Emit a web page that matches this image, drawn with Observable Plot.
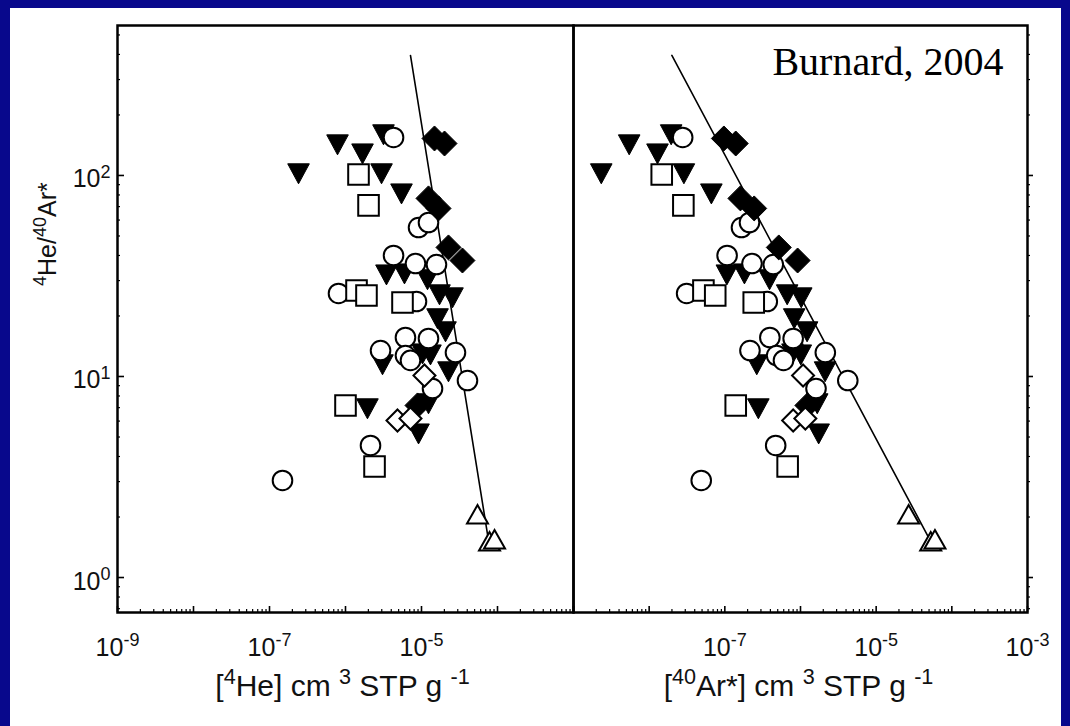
<!DOCTYPE html>
<html>
<head>
<meta charset="utf-8">
<script src="https://cdn.jsdelivr.net/npm/d3@7"></script>
<script src="https://cdn.jsdelivr.net/npm/@observablehq/plot@0.6"></script>
<style>
html, body { margin: 0; padding: 0; background: #08088c; width: 1070px; height: 726px; overflow: hidden; }
#card { position: absolute; left: 10px; top: 8px; width: 1051px; height: 718px; background: #ffffff; }
#left { position: absolute; left: 0; top: 0; }
#right { position: absolute; left: 561px; top: 0; }
svg { overflow: visible; }
</style>
</head>
<body>
<div id="card"><div id="left"></div><div id="right"></div></div>
<script>
// ---------- data (log10 values) ----------
// filled inverted triangles
const filledTriLogHe    = [-6.618,-6.105,-5.776,-5.500,-5.526,-5.263,-5.461,-5.224,-4.921,-4.763,-4.592,-4.789,-4.684,-4.987,-4.882,-5.513,-4.645,-4.908,-5.711,-5.039];
const filledTriLogRatio = [2.015,2.159,2.114,2.209,2.015,1.915,1.512,1.517,1.488,1.413,1.398,1.294,1.229,1.119,1.114,1.065,1.030,0.871,0.846,0.721];
const filledTriLogAr    = [-8.633,-8.264,-7.890,-7.709,-7.541,-7.178,-6.973,-6.741,-6.409,-6.176,-5.990,-6.083,-5.913,-6.106,-5.996,-6.578,-5.675,-5.779,-6.557,-5.760];
// filled diamonds
const filledDiaLogHe    = [-4.829,-4.697,-4.908,-4.776,-4.645,-4.461,-5.053];
const filledDiaLogRatio = [2.184,2.159,1.886,1.836,1.642,1.577,0.856];
const filledDiaLogAr    = [-7.013,-6.856,-6.794,-6.612,-6.287,-6.038,-5.909];
// open circles
const circleLogHe    = [-5.368,-5.039,-4.908,-5.368,-5.079,-4.803,-6.092,-5.066,-5.211,-4.908,-5.539,-5.211,-4.553,-4.395,-4.855,-5.671,-6.829,-5.145];
const circleLogRatio = [2.189,1.741,1.766,1.602,1.562,1.557,1.413,1.373,1.194,1.189,1.129,1.104,1.119,0.980,0.940,0.657,0.483,1.080];
const circleLogAr    = [-7.557,-6.780,-6.674,-6.970,-6.641,-6.360,-7.505,-6.439,-6.405,-6.097,-6.668,-6.315,-5.672,-5.375,-5.795,-6.328,-7.312,-6.225];
// open squares
const squareLogHe    = [-5.829,-5.697,-5.855,-5.724,-5.250,-6.000,-5.618];
const squareLogRatio = [2.005,1.851,1.428,1.403,1.368,0.856,0.552];
const squareLogAr    = [-7.834,-7.548,-7.283,-7.127,-6.618,-6.856,-6.170];
// open diamonds
const openDiaLogHe    = [-5.316,-4.961,-5.145];
const openDiaLogRatio = [0.781,1.005,0.791];
const openDiaLogAr    = [-6.097,-5.966,-5.936];
// open triangles
const openTriLogHe    = [-4.263,-4.105,-4.039];
const openTriLogRatio = [0.308,0.174,0.184];
const openTriLogAr    = [-4.571,-4.279,-4.223];
// trend lines (end points)
const heLineLogX = [-5.145, -4.118];
const heLineLogY = [2.597, 0.184];
const arLineLogX = [-7.700, -4.285];
const arLineLogY = [2.597, 0.184];
// axes
const xDomainExp = [-9, -3];
const yDomainExp = [-0.174, 2.746];
const xMajorExp = [-9, -8, -7, -6, -5, -4, -3];
const yMajorExp = [0, 1, 2];
const xTickLabelExpHe = [-9, -7, -5];
const xTickLabelExpAr = [-7, -5, -3];
const yTickLabelExp = [0, 1, 2];
const xTitleHe = "[{4}He] cm {3} STP g {-1}";
const xTitleAr = "[{40}Ar*] cm {3} STP g {-1}";
const yTitle = "{4}He/{40}Ar*";
const citation = "Burnard, 2004";

// ---------- helpers ----------
const pow = v => Math.pow(10, v);
const minorTicks = (lo, hi) => {
  const out = [];
  for (let e = Math.floor(lo); e < Math.ceil(hi); e++)
    for (let m = 2; m <= 9; m++) { const v = m * pow(e); if (v > pow(lo) && v < pow(hi)) out.push(v); }
  return out;
};
const xMinor = minorTicks(xDomainExp[0], xDomainExp[1]);
const yMinor = minorTicks(yDomainExp[0], yDomainExp[1]);

const invTriangle = { draw(ctx, size) { const h = Math.sqrt(size / Math.PI); ctx.moveTo(-h, -0.8 * h); ctx.lineTo(h, -0.8 * h); ctx.lineTo(0, 1.05 * h); ctx.closePath(); } };
const upTriangle  = { draw(ctx, size) { const h = Math.sqrt(size / Math.PI); ctx.moveTo(0, -1.0 * h); ctx.lineTo(h, 0.75 * h); ctx.lineTo(-h, 0.75 * h); ctx.closePath(); } };
const diamondSym  = { draw(ctx, size) { const h = Math.sqrt(size / Math.PI); ctx.moveTo(0, -h); ctx.lineTo(h, 0); ctx.lineTo(0, h); ctx.lineTo(-h, 0); ctx.closePath(); } };
const squareSym   = { draw(ctx, size) { const h = Math.sqrt(size / Math.PI); ctx.rect(-h, -h, 2 * h, 2 * h); } };

const pts = (lx, ly) => lx.map((v, i) => ({ x: pow(v), y: pow(ly[i]) }));

function dotMarks(key) {
  const X = key === "He"
    ? [filledTriLogHe, filledDiaLogHe, circleLogHe, squareLogHe, openDiaLogHe, openTriLogHe]
    : [filledTriLogAr, filledDiaLogAr, circleLogAr, squareLogAr, openDiaLogAr, openTriLogAr];
  return [
    Plot.dot(pts(X[0], filledTriLogRatio), { x: "x", y: "y", symbol: invTriangle, r: 10.8, fill: "black", stroke: "black", strokeWidth: 1 }),
    Plot.dot(pts(X[2], circleLogRatio), { x: "x", y: "y", symbol: "circle", r: 9.8, fill: "white", stroke: "black", strokeWidth: 2 }),
    Plot.dot(pts(X[3], squareLogRatio), { x: "x", y: "y", symbol: squareSym, r: 10.3, fill: "white", stroke: "black", strokeWidth: 2 }),
    Plot.dot(pts(X[1], filledDiaLogRatio), { x: "x", y: "y", symbol: diamondSym, r: 12.5, fill: "black", stroke: "black", strokeWidth: 1 }),
    Plot.dot(pts(X[4], openDiaLogRatio), { x: "x", y: "y", symbol: diamondSym, r: 11, fill: "white", stroke: "black", strokeWidth: 2 }),
    Plot.dot(pts(X[5], openTriLogRatio), { x: "x", y: "y", symbol: upTriangle, r: 10.5, fill: "white", stroke: "black", strokeWidth: 2 })
  ];
}

const H = 718, MT = 17, MB = 114;
const frameH = H - MT - MB;
const font = "'Liberation Sans', Arial, Helvetica, sans-serif";
const common = {
  height: H, marginTop: MT, marginBottom: MB,
  x: { type: "log", domain: [pow(xDomainExp[0]), pow(xDomainExp[1])], axis: null },
  y: { type: "log", domain: [pow(yDomainExp[0]), pow(yDomainExp[1])], axis: null },
  style: { background: "transparent", overflow: "visible", fontFamily: font, color: "#111" }
};

const bottomTicks = [
  Plot.ruleX(xMajorExp.map(pow), { x: d => d, insetTop: frameH - 6, stroke: "black", strokeWidth: 1.6 }),
  Plot.ruleX(xMinor, { x: d => d, insetTop: frameH - 3, stroke: "black", strokeWidth: 1.2 })
];

// left panel
const LW = 565, LML = 107, LMR = 2;
const LFW = LW - LML - LMR;
const left = Plot.plot({
  ...common, width: LW, marginLeft: LML, marginRight: LMR,
  marks: [
    ...bottomTicks,
    Plot.ruleY(yMajorExp.map(pow), { y: d => d, insetRight: LFW - 7, stroke: "black", strokeWidth: 1.6 }),
    Plot.ruleY(yMinor, { y: d => d, insetRight: LFW - 3, stroke: "black", strokeWidth: 1.2 }),
    Plot.line(pts(heLineLogX, heLineLogY), { x: "x", y: "y", stroke: "black", strokeWidth: 1.6 }),
    ...dotMarks("He"),
    Plot.frame({ stroke: "black", strokeWidth: 2.5 }),
    Plot.text(xTickLabelExpHe, { x: d => pow(d), text: d => `10{${d}}`, frameAnchor: "bottom", dy: 43, fontSize: 25 }),
    Plot.text(yTickLabelExp, { y: d => pow(d), text: d => `10{${d}}`, frameAnchor: "left", dx: -7, dy: 4, textAnchor: "end", fontSize: 25 }),
    Plot.text([xTitleHe], { text: d => d, frameAnchor: "bottom", dx: -3, dy: 83, fontSize: 30 }),
    Plot.text([yTitle], { text: d => d, frameAnchor: "left", rotate: -90, dx: -70, dy: -33, fontSize: 25 })
  ]
});

// right panel
const RW = 490, RML = 2, RMR = 34;
const RFW = RW - RML - RMR;
const right = Plot.plot({
  ...common, width: RW, marginLeft: RML, marginRight: RMR,
  marks: [
    ...bottomTicks,
    Plot.ruleY(yMajorExp.map(pow), { y: d => d, insetLeft: RFW, insetRight: -6, stroke: "black", strokeWidth: 1.6 }),
    Plot.ruleY(yMinor, { y: d => d, insetLeft: RFW, insetRight: -3, stroke: "black", strokeWidth: 1.2 }),
    Plot.line(pts(arLineLogX, arLineLogY), { x: "x", y: "y", stroke: "black", strokeWidth: 1.6 }),
    ...dotMarks("Ar"),
    Plot.frame({ stroke: "black", strokeWidth: 2.5 }),
    Plot.text(xTickLabelExpAr, { x: d => pow(d), text: d => `10{${d}}`, frameAnchor: "bottom", dy: 43, fontSize: 25 }),
    Plot.text([xTitleAr], { text: d => d, frameAnchor: "bottom", dx: -2, dy: 83, fontSize: 30 }),
    Plot.text([citation], { text: d => d, frameAnchor: "top-right", textAnchor: "end", lineAnchor: "top", dx: -24, dy: 21, fontSize: 40, fontFamily: "'Liberation Serif', 'Times New Roman', serif", fill: "black" })
  ]
});

document.getElementById("left").appendChild(left);
document.getElementById("right").appendChild(right);

// turn {..} segments into real superscripts
function supify(svg) {
  d3.select(svg).selectAll("text").each(function () {
    const s = this.textContent;
    if (!s.includes("{")) return;
    const fs = parseFloat(getComputedStyle(this).fontSize) || 24;
    const parts = s.split(/(\{[^}]*\})/).filter(p => p.length);
    this.textContent = "";
    let raised = false;
    for (const p of parts) {
      const t = document.createElementNS("http://www.w3.org/2000/svg", "tspan");
      if (p.startsWith("{")) {
        t.textContent = p.slice(1, -1);
        t.setAttribute("font-size", (fs * 0.72) + "px");
        if (!raised) { t.setAttribute("dy", (-fs * 0.38) + "px"); raised = true; }
      } else {
        t.textContent = p;
        if (raised) { t.setAttribute("dy", (fs * 0.38) + "px"); raised = false; }
      }
      this.appendChild(t);
    }
  });
}
supify(left);
supify(right);
</script>
</body>
</html>
